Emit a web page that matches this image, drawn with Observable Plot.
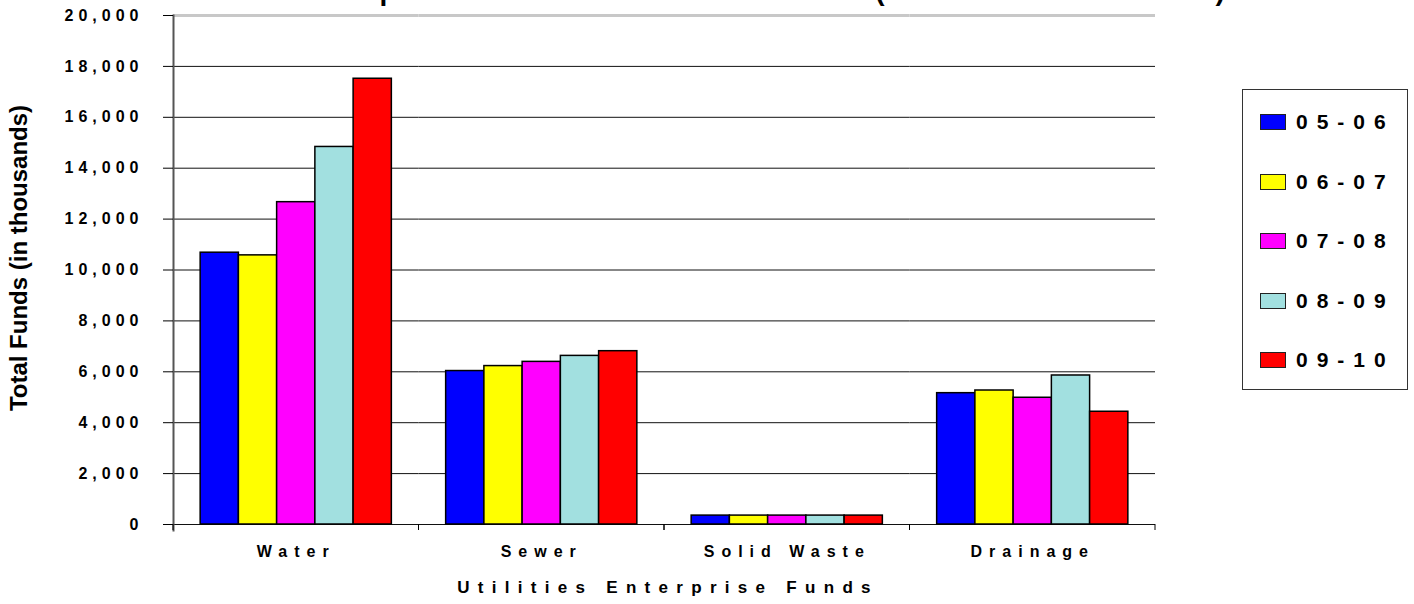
<!DOCTYPE html>
<html>
<head>
<meta charset="utf-8">
<script src="https://cdn.jsdelivr.net/npm/d3@7"></script>
<script src="https://cdn.jsdelivr.net/npm/@observablehq/plot@0.6"></script>
<style>
  html, body { margin: 0; padding: 0; background: #fff; overflow: hidden; }
  body { width: 1414px; height: 604px; font-family: "Liberation Sans", Arial, sans-serif; }
  #wrap { position: relative; width: 1414px; height: 604px; }
  #title { position: absolute; left: 182px; top: -23px; white-space: nowrap;
    font: bold 28px "Liberation Sans", Arial, sans-serif; line-height: 28px;
    letter-spacing: 13.2px; word-spacing: -15px; color: #000; }
  #ytitle { position: absolute; left: 19px; top: 258px; white-space: nowrap;
    transform: translate(-50%, -50%) rotate(-90deg);
    font: bold 24px "Liberation Sans", Arial, sans-serif; color: #000; }
  #xtitle { position: absolute; left: 668px; top: 588px; white-space: nowrap;
    transform: translate(-50%, -50%);
    font: bold 17px "Liberation Sans", Arial, sans-serif; letter-spacing: 8.3px; color: #000; }
  #legend { position: absolute; left: 1242px; top: 89px; width: 166px; height: 301px;
    box-sizing: border-box; border: 1px solid #333; background: #fff;
    padding: 20px 0 0 17px; display: flex; flex-direction: column; gap: 35.5px; }
  .item { display: flex; align-items: center; height: 24px; }
  .sw { width: 26px; height: 16px; box-sizing: border-box; border: 1.5px solid #222; margin-right: 10px; }
  .lab { font: bold 21px "Liberation Sans", Arial, sans-serif; letter-spacing: 9px; color: #000; }
  svg text { fill: #000; }
  g[aria-label="y-axis tick label"] { font: bold 16px "Liberation Sans", Arial, sans-serif; letter-spacing: 5px; }
  g[aria-label="fx-axis tick label"] { font: bold 16px "Liberation Sans", Arial, sans-serif; letter-spacing: 7px; }
</style>
</head>
<body>
<div id="wrap">
  <div id="title">Total Expenditures of Funds (in thousands)</div>
  <div id="chart"></div>
  <div id="ytitle">Total Funds (in thousands)</div>
  <div id="xtitle">Utilities Enterprise Funds</div>
  <div id="legend"></div>
</div>
<script>
const categories = ["Water", "Sewer", "Solid Waste", "Drainage"];
const years = ["05-06", "06-07", "07-08", "08-09", "09-10"];
const colors = ["#0000ff", "#ffff00", "#ff00ff", "#a2e0e0", "#ff0000"];
const water = [10680, 10575, 12665, 14835, 17515];
const sewer = [6030, 6225, 6390, 6625, 6810];
const solidWaste = [350, 350, 350, 350, 350];
const drainage = [5160, 5265, 4980, 5855, 4430];
const yTicks = [0, 2000, 4000, 6000, 8000, 10000, 12000, 14000, 16000, 18000, 20000];

const series = [water, sewer, solidWaste, drainage];
const data = [];
categories.forEach((c, i) => years.forEach((y, j) => data.push({category: c, year: y, value: series[i][j]})));

function boundaryTicks(index, scales, values, dimensions) {
  const g = d3.create("svg:g").attr("aria-label", "category boundary ticks");
  const r = scales.x.range();
  const y0 = scales.y(0);
  for (const xv of [r[0], r[r.length - 1]]) {
    g.append("line").attr("x1", xv).attr("x2", xv).attr("y1", y0).attr("y2", y0 + 6)
      .attr("stroke", "#000").attr("stroke-width", 1);
  }
  return g.node();
}

const chart = Plot.plot({
  width: 1414,
  height: 604,
  marginLeft: 173,
  marginRight: 259,
  marginTop: 15,
  marginBottom: 80,
  fx: {domain: categories, padding: 0, round: false, label: null},
  x: {domain: years, paddingInner: 0, paddingOuter: 0.71, round: false, axis: null},
  y: {domain: [0, 20000], axis: null},
  color: {domain: years, range: colors},
  marks: [
    Plot.gridY(yTicks.filter(d => d < 20000), {stroke: "#111", strokeOpacity: 1, strokeWidth: 1}),
    Plot.gridY(yTicks.filter(d => d === 20000), {stroke: "#c8c8c8", strokeOpacity: 1, strokeWidth: 3}),
    Plot.barY(data, {fx: "category", x: "year", y: "value", fill: "year", stroke: "#000", strokeWidth: 1.5}),
    Plot.frame({anchor: "left", facetAnchor: "left", stroke: "#555", strokeWidth: 2, insetBottom: -6}),
    Plot.axisY(yTicks, {tickSize: 10, tickPadding: 20, tickFormat: d3.format(","), label: null, stroke: "#000"}),
    Plot.axisFx({anchor: "bottom", tickSize: 0, tickPadding: 21, label: null}),
    boundaryTicks
  ]
});
document.getElementById("chart").appendChild(chart);

const legend = document.getElementById("legend");
years.forEach((y, i) => {
  const item = document.createElement("div");
  item.className = "item";
  const sw = document.createElement("div");
  sw.className = "sw";
  sw.style.background = colors[i];
  const lab = document.createElement("span");
  lab.className = "lab";
  lab.textContent = y;
  item.appendChild(sw);
  item.appendChild(lab);
  legend.appendChild(item);
});
</script>
</body>
</html>
